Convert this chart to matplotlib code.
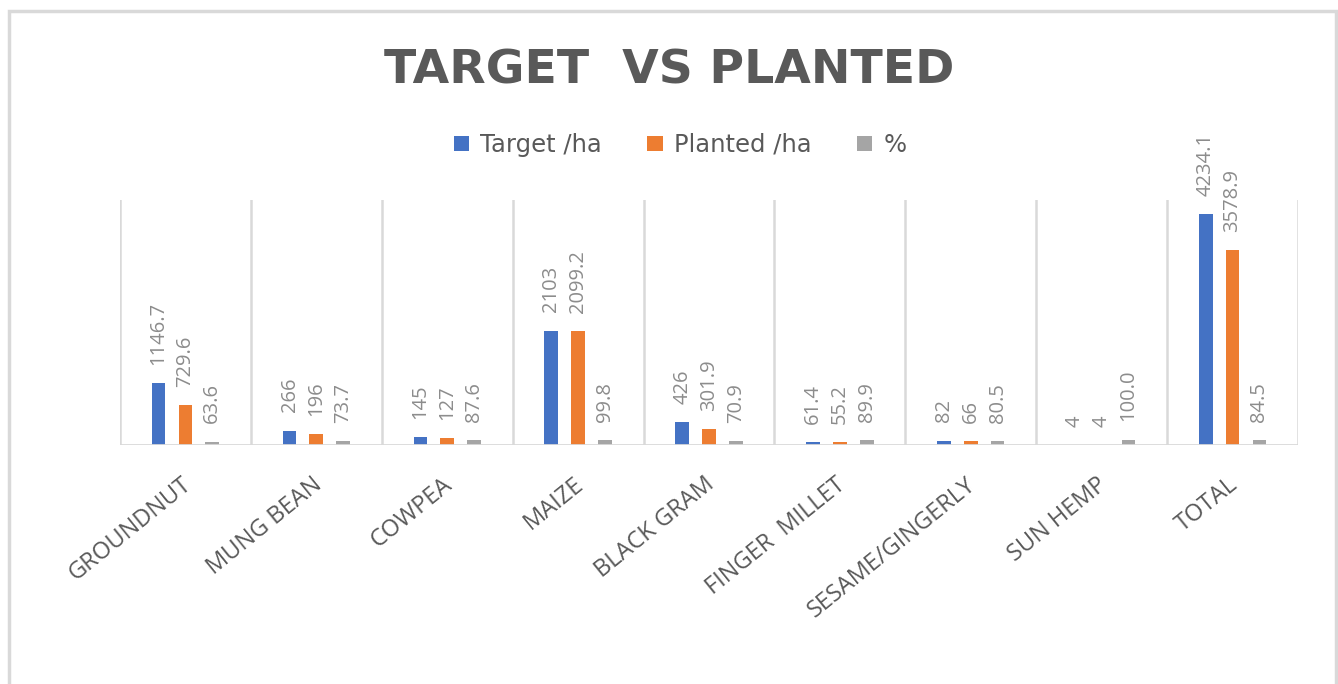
import matplotlib
matplotlib.use("Agg")
import numpy as np
import matplotlib.pyplot as plt
import matplotlib.transforms as mtransforms
from matplotlib.patches import Patch, Rectangle

# data
crops = ["GROUNDNUT", "MUNG BEAN", "COWPEA", "MAIZE", "BLACK GRAM",
         "FINGER  MILLET", "SESAME/GINGERLY", "SUN HEMP", "TOTAL"]
target_ha = [1146.7, 266, 145, 2103, 426, 61.4, 82, 4, 4234.1]
planted_ha = [729.6, 196, 127, 2099.2, 301.9, 55.2, 66, 4, 3578.9]
pct = [63.6, 73.7, 87.6, 99.8, 70.9, 89.9, 80.5, 100.0, 84.5]
series_names = ["Target /ha", "Planted /ha", "%"]

colors = ["#4472C4", "#ED7D31", "#A5A5A5"]
text_gray = "#595959"
label_gray = "#8c8c8c"
grid_gray = "#d9d9d9"

plt.rcParams["font.family"] = ["Open Sans", "DejaVu Sans"]

W, H = 1338, 684
fig = plt.figure(figsize=(W / 100, H / 100), dpi=100)
ax = fig.add_axes([120 / W, 1 - 445 / H, (1298 - 120) / W, (445 - 200) / H])

x = np.arange(len(crops))
width = 0.105
offset = 0.205
series = [target_ha, planted_ha, pct]
fmts = ["{:g}", "{:g}", "{:.1f}"]

for i, (vals, col, fmt) in enumerate(zip(series, colors, fmts)):
    xs = x + (i - 1) * offset
    ax.bar(xs, vals, width=width, color=col, zorder=3)
    for xi, v in zip(xs, vals):
        ax.annotate(fmt.format(v), (xi, v), xytext=(0, 13),
                    textcoords="offset points", rotation=90,
                    ha="center", va="bottom", fontsize=14.5,
                    color=label_gray)

ax.set_xlim(-0.5, len(crops) - 0.5)
ax.set_ylim(0, 4500)

# vertical separators between categories
for b in np.arange(-0.5, len(crops), 1.0):
    ax.axvline(b, color=grid_gray, lw=1.8, zorder=1)
ax.axhline(0, color=grid_gray, lw=2.0, zorder=4)

for s in ax.spines.values():
    s.set_visible(False)
ax.set_yticks([])
ax.set_xticks(x)
ax.set_xticklabels(crops, rotation=39, ha="right", va="top",
                   rotation_mode="anchor", fontsize=17, color=text_gray)
ax.tick_params(axis="x", length=0, pad=20)
shift = mtransforms.ScaledTranslation(-5 / 100, 0, fig.dpi_scale_trans)
for lbl in ax.get_xticklabels():
    lbl.set_transform(lbl.get_transform() + shift)

# title
fig.text(0.5, 1 - 83 / H, "TARGET  VS PLANTED", ha="center", va="baseline",
         fontsize=34, fontweight="bold", color=text_gray,
         family="DejaVu Sans")

# legend
handles = [Patch(facecolor=c, edgecolor="none") for c in colors]
fig.legend(handles, series_names, loc="center", ncol=3,
           bbox_to_anchor=(680 / W, 1 - 145 / H), frameon=False,
           prop={"family": "DejaVu Sans", "size": 17.5},
           labelcolor=text_gray, handlelength=0.62,
           handleheight=0.62, handletextpad=0.45, columnspacing=1.9)

# outer chart frame
fig.add_artist(Rectangle((9 / W, -0.1), (1336 - 9) / W, 1.1 - 11 / H,
                         transform=fig.transFigure, fill=False,
                         edgecolor=grid_gray, lw=2.5))

fig.savefig("out.png", dpi=100)
